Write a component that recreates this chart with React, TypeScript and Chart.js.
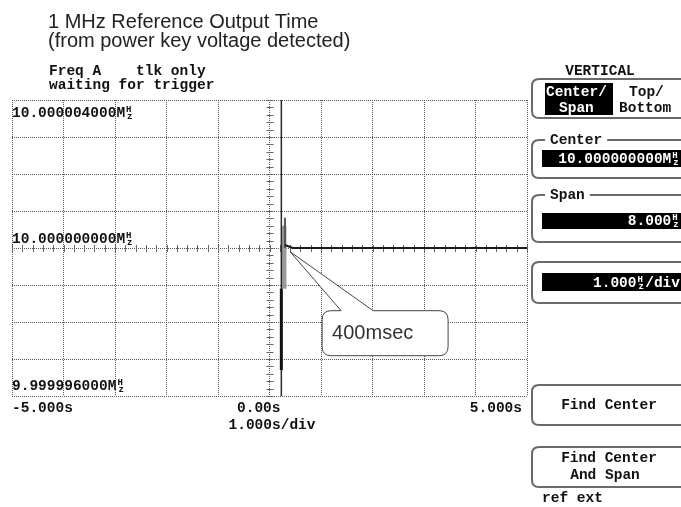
import React, { useEffect, useRef } from 'react';
import { Chart, registerables } from 'chart.js';

Chart.register(...registerables);

// ---------- data ----------
const titleLines = ['1 MHz Reference Output Time', '(from power key voltage detected)'];
const statusLines = ['Freq A    tlk only', 'waiting for trigger'];

const xMin = -5;
const xMax = 5;
const xStep = 1;
const yMin = -4; // Hz offset from 10 MHz
const yMax = 4;
const yStep = 1;

const xTickValues = [-5, 0, 5];
const xTickLabels = ['-5.000s', '0.00s', '5.000s'];
const xDivLabel = '1.000s/div';
const yTickValues = [4, 0, -4];
const yTickLabels = ['10.000004000M', '10.000000000M', '9.999996000M'];

// trace segments (time in s, frequency offset in Hz)
const mainLineTime = [0.23, 0.23];
const mainLineHz = [4, -4];
const burstTime = [0.23, 0.23];
const burstHz = [-1.1, -3.3];
const spikeTime = [0.3, 0.3];
const spikeHz = [0, 0.82];
const settleTime = [0.28, 0.28];
const settleHz = [0.6, -1.1];
const steadyTime = [0.3, 0.45, 1.0, 2.0, 3.0, 4.0, 5.0];
const steadyHz = [0.08, 0.0, 0.0, 0.0, 0.0, 0.0, 0.0];

const calloutText = '400msec';
const calloutTime = 0.4;
const calloutHz = -0.1;

// right-hand soft key panel
const panelTitle = 'VERTICAL';
const centerValue = '10.000000000M';
const spanValue = '8.000';
const scaleValue = '1.000';
const footerText = 'ref ext';

const pts = (xs: number[], ys: number[]) => xs.map((x, i) => ({ x, y: ys[i] }));

const MONO = "bold 14.5px 'Liberation Mono', 'DejaVu Sans Mono', monospace";
const MONO_SMALL = "bold 9px 'Liberation Mono', 'DejaVu Sans Mono', monospace";
const SANS = "20px 'Liberation Sans', Arial, sans-serif";

function drawUnitText(
  ctx: CanvasRenderingContext2D,
  prefix: string,
  suffix: string,
  x: number,
  y: number,
  align: 'left' | 'right',
  color: string
) {
  ctx.font = MONO;
  const pw = ctx.measureText(prefix).width;
  const cell = ctx.measureText('M').width;
  const sw = suffix ? ctx.measureText(suffix).width : 0;
  const total = pw + cell + sw;
  const x0 = align === 'left' ? x : x - total;
  ctx.fillStyle = color;
  ctx.textAlign = 'left';
  ctx.textBaseline = 'alphabetic';
  ctx.fillText(prefix, x0, y);
  ctx.font = MONO_SMALL;
  ctx.fillText('H', x0 + pw + 1, y - 5);
  ctx.fillText('z', x0 + pw + 2, y + 2);
  ctx.font = MONO;
  if (suffix) ctx.fillText(suffix, x0 + pw + cell, y);
}

function roundBox(ctx: CanvasRenderingContext2D, x: number, y: number, w: number, h: number, r: number) {
  ctx.beginPath();
  ctx.moveTo(x + r, y);
  ctx.lineTo(x + w - r, y);
  ctx.quadraticCurveTo(x + w, y, x + w, y + r);
  ctx.lineTo(x + w, y + h - r);
  ctx.quadraticCurveTo(x + w, y + h, x + w - r, y + h);
  ctx.lineTo(x + r, y + h);
  ctx.quadraticCurveTo(x, y + h, x, y + h - r);
  ctx.lineTo(x, y + r);
  ctx.quadraticCurveTo(x, y, x + r, y);
  ctx.closePath();
}

function softKey(ctx: CanvasRenderingContext2D, y: number, h: number, label?: string) {
  ctx.save();
  ctx.strokeStyle = '#6a6a6a';
  ctx.lineWidth = 2;
  roundBox(ctx, 532, y, 160, h, 7);
  ctx.stroke();
  if (label) {
    ctx.font = MONO;
    const w = ctx.measureText(label).width;
    ctx.fillStyle = '#ffffff';
    ctx.fillRect(545, y - 6, w + 10, 12);
    ctx.fillStyle = '#111';
    ctx.textAlign = 'left';
    ctx.fillText(label, 550, y + 4);
  }
  ctx.restore();
}

const decorPlugin = {
  id: 'decor',
  beforeDatasetsDraw(chart: any) {
    const ctx: CanvasRenderingContext2D = chart.ctx;
    const xs = chart.scales.x;
    const ys = chart.scales.y;
    const x0 = xs.getPixelForValue(0);
    const y0 = ys.getPixelForValue(0);
    ctx.save();
    ctx.strokeStyle = '#666';
    ctx.lineWidth = 1;
    ctx.beginPath();
    for (let v = yMin; v <= yMax + 1e-9; v += 0.2) {
      const p = Math.round(ys.getPixelForValue(v)) + 0.5;
      ctx.moveTo(x0 - 3, p);
      ctx.lineTo(x0 + 4, p);
    }
    for (let v = xMin; v <= xMax + 1e-9; v += 0.2) {
      const p = Math.round(xs.getPixelForValue(v)) + 0.5;
      ctx.moveTo(p, y0 - 3);
      ctx.lineTo(p, y0 + 4);
    }
    ctx.stroke();

    // y labels inside the grid
    const yOffsets = [17, -5, -6];
    yTickValues.forEach((v, i) => {
      drawUnitText(ctx, yTickLabels[i], '', xs.getPixelForValue(xMin), ys.getPixelForValue(v) + yOffsets[i], 'left', '#111');
    });
    ctx.restore();
  },
  afterDatasetsDraw(chart: any) {
    const ctx: CanvasRenderingContext2D = chart.ctx;
    const xs = chart.scales.x;
    const ys = chart.scales.y;
    const area = chart.chartArea;
    ctx.save();

    // callout
    const tx = xs.getPixelForValue(calloutTime);
    const ty = ys.getPixelForValue(calloutHz);
    const bx = tx + 32;
    const by = ty + 59;
    const bw = 126;
    const bh = 45;
    const r = 9;
    ctx.beginPath();
    ctx.moveTo(bx + r, by);
    ctx.lineTo(tx + 51, by);
    ctx.lineTo(tx, ty);
    ctx.lineTo(tx + 83, by);
    ctx.lineTo(bx + bw - r, by);
    ctx.quadraticCurveTo(bx + bw, by, bx + bw, by + r);
    ctx.lineTo(bx + bw, by + bh - r);
    ctx.quadraticCurveTo(bx + bw, by + bh, bx + bw - r, by + bh);
    ctx.lineTo(bx + r, by + bh);
    ctx.quadraticCurveTo(bx, by + bh, bx, by + bh - r);
    ctx.lineTo(bx, by + r);
    ctx.quadraticCurveTo(bx, by, bx + r, by);
    ctx.closePath();
    ctx.fillStyle = '#ffffff';
    ctx.fill();
    ctx.strokeStyle = '#444';
    ctx.lineWidth = 1;
    ctx.stroke();
    ctx.font = SANS;
    ctx.fillStyle = '#333';
    ctx.textAlign = 'left';
    ctx.textBaseline = 'alphabetic';
    ctx.fillText(calloutText, bx + 10, by + 28);

    // x labels under the grid
    ctx.font = MONO;
    ctx.fillStyle = '#111';
    const base = area.bottom + 16;
    xTickValues.forEach((v, i) => {
      const p = xs.getPixelForValue(v);
      if (i === 0) {
        ctx.textAlign = 'left';
        ctx.fillText(xTickLabels[i], p, base);
      } else if (i === xTickValues.length - 1) {
        ctx.textAlign = 'right';
        ctx.fillText(xTickLabels[i], p - 5, base);
      } else {
        ctx.textAlign = 'right';
        ctx.fillText(xTickLabels[i], p + 11, base);
      }
    });
    ctx.textAlign = 'left';
    ctx.fillText(xDivLabel, xs.getPixelForValue(0) - 41, base + 17);

    // title
    ctx.font = SANS;
    ctx.fillStyle = '#222';
    ctx.fillText(titleLines[0], 48, 28);
    ctx.fillText(titleLines[1], 48, 47);

    // status
    ctx.font = MONO;
    ctx.fillStyle = '#111';
    ctx.fillText(statusLines[0], 49, 75);
    ctx.fillText(statusLines[1], 49, 89);

    // right panel
    ctx.textAlign = 'center';
    ctx.fillText(panelTitle, 600, 75);

    softKey(ctx, 79, 39);
    ctx.fillStyle = '#000';
    ctx.fillRect(545, 83, 68, 32);
    ctx.fillStyle = '#fff';
    ctx.textAlign = 'left';
    ctx.fillText('Center/', 546, 96);
    ctx.fillText('Span', 559, 112);
    ctx.fillStyle = '#111';
    ctx.fillText('Top/', 629, 96);
    ctx.fillText('Bottom', 619, 112);

    softKey(ctx, 140, 38, 'Center');
    ctx.fillStyle = '#000';
    ctx.fillRect(542, 150, 140, 17);
    drawUnitText(ctx, centerValue, '', 680, 163, 'right', '#fff');

    softKey(ctx, 195, 47, 'Span');
    ctx.fillStyle = '#000';
    ctx.fillRect(542, 213, 140, 16);
    drawUnitText(ctx, spanValue, '', 680, 225, 'right', '#fff');

    softKey(ctx, 262, 41);
    ctx.fillStyle = '#000';
    ctx.fillRect(542, 273, 140, 18);
    drawUnitText(ctx, scaleValue, '/div', 680, 287, 'right', '#fff');

    softKey(ctx, 385, 40);
    ctx.font = MONO;
    ctx.fillStyle = '#111';
    ctx.textAlign = 'center';
    ctx.fillText('Find Center', 609, 409);

    softKey(ctx, 447, 40);
    ctx.font = MONO;
    ctx.fillStyle = '#111';
    ctx.textAlign = 'center';
    ctx.fillText('Find Center', 609, 462);
    ctx.fillText('And Span', 605, 479);

    ctx.textAlign = 'left';
    ctx.fillText(footerText, 542, 502);

    ctx.restore();
  },
};

export default function App() {
  const ref = useRef<HTMLCanvasElement | null>(null);

  useEffect(() => {
    if (!ref.current) return;
    const lineDs = (label: string, data: any[], color: string, width: number) => ({
      label,
      data,
      showLine: true,
      borderColor: color,
      backgroundColor: color,
      borderWidth: width,
      pointRadius: 0,
      tension: 0,
      fill: false,
    });
    const chart = new Chart(ref.current, {
      type: 'scatter',
      data: {
        datasets: [
          lineDs('steady', pts(steadyTime, steadyHz), '#1a1a1a', 2),
          lineDs('spike', pts(spikeTime, spikeHz), '#555', 2),
          lineDs('burst', pts(burstTime, burstHz), '#111', 3),
          lineDs('main', pts(mainLineTime, mainLineHz), '#2a2a2a', 1.5),
          lineDs('settle', pts(settleTime, settleHz), '#9a9a9a', 5),
        ],
      },
      options: {
        animation: false,
        responsive: false,
        devicePixelRatio: 1,
        layout: { padding: { left: 12, top: 100, right: 154, bottom: 111 } },
        plugins: {
          legend: { display: false },
          tooltip: { enabled: false },
          title: { display: false },
        },
        scales: {
          x: {
            type: 'linear',
            min: xMin,
            max: xMax,
            ticks: { display: false, stepSize: xStep },
            grid: { color: '#555', lineWidth: 1, drawTicks: false },
            border: { display: false, dash: [1, 1] },
          },
          y: {
            type: 'linear',
            min: yMin,
            max: yMax,
            ticks: { display: false, stepSize: yStep },
            grid: { color: '#555', lineWidth: 1, drawTicks: false },
            border: { display: false, dash: [1, 1] },
          },
        },
      },
      plugins: [decorPlugin],
    });
    return () => chart.destroy();
  }, []);

  return (
    <div style={{ position: 'absolute', left: 0, top: 0, width: 681, height: 507, background: '#fff' }}>
      <canvas ref={ref} width={681} height={507} style={{ width: 681, height: 507, display: 'block' }} />
    </div>
  );
}
